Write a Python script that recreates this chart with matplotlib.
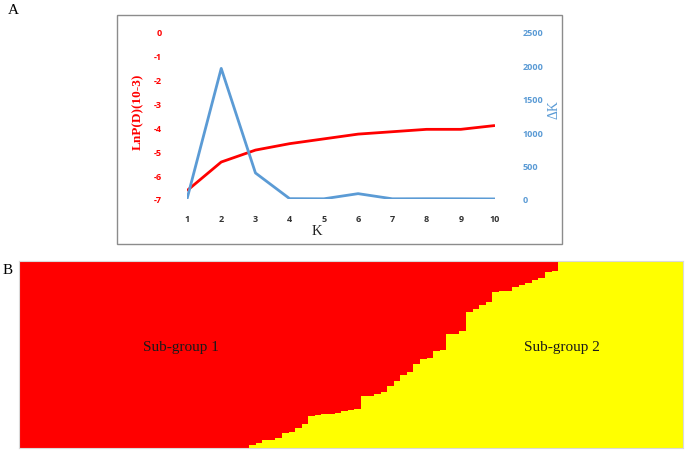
import numpy as np
import matplotlib
matplotlib.use('Agg')
import matplotlib.pyplot as plt
from matplotlib.patches import Rectangle

plt.rcParams['axes.unicode_minus'] = False

# Panel A: Evanno delta K results
k_values = [1, 2, 3, 4, 5, 6, 7, 8, 9, 10]
lnp_d = [-6.65, -5.45, -4.95, -4.68, -4.48, -4.28, -4.18, -4.08, -4.08, -3.92]
delta_k = [0, 1955, 390, 5, 3, 80, 3, 4, 3, 1]

# Panel B: STRUCTURE membership (sub-group 2 share) per individual, sorted
n_pure_group1 = 35
n_pure_group2 = 19
admixed_q2 = [0.018, 0.027, 0.041, 0.041, 0.055, 0.079, 0.087, 0.109, 0.128, 0.173,
              0.178, 0.180, 0.183, 0.186, 0.198, 0.202, 0.209, 0.276, 0.280, 0.289,
              0.298, 0.330, 0.360, 0.389, 0.408, 0.449, 0.474, 0.481, 0.517, 0.524,
              0.610, 0.610, 0.624, 0.726, 0.743, 0.765, 0.779, 0.836, 0.841, 0.842,
              0.863, 0.872, 0.881, 0.898, 0.907, 0.943, 0.944]
q2 = np.array([0.0] * n_pure_group1 + admixed_q2 + [1.0] * n_pure_group2)
q1 = 1 - q2

W, H = 685, 452
fig = plt.figure(figsize=(W / 100, H / 100), dpi=100)

def rect(x0, y0, x1, y1):
    return [x0 / W, 1 - y1 / H, (x1 - x0) / W, (y1 - y0) / H]

red = '#FF0000'
blue = '#5B9BD5'
serif = 'Liberation Serif'
sans = 'Open Sans'

# chart frame (Excel style border)
fig.patches.append(Rectangle((117 / W, 1 - 245 / H), (562 - 117) / W, (245 - 16) / H,
                             transform=fig.transFigure, fill=False,
                             edgecolor='#8c8c8c', linewidth=1.0))

ax1 = fig.add_axes(rect(187, 33, 495, 200))
ax1.plot(k_values, lnp_d, color=red, linewidth=2.0, solid_capstyle='butt')
ax1.set_xlim(1, 10)
ax1.set_ylim(-7, 0)
ax1.set_yticks(range(-7, 1))
ax1.set_xticks(k_values)
for s in ax1.spines.values():
    s.set_visible(False)
ax1.tick_params(axis='y', length=0, pad=18, labelcolor=red, labelsize=6.5)
ax1.tick_params(axis='x', length=0, pad=11, labelcolor='#333333', labelsize=6.5)
for lab in ax1.get_xticklabels() + ax1.get_yticklabels():
    lab.set_fontweight('bold')
    lab.set_fontfamily(sans)

ax2 = ax1.twinx()
ax2.plot(k_values, delta_k, color=blue, linewidth=2.0)
ax2.set_ylim(0, 2500)
ax2.set_yticks(range(0, 2501, 500))
for s in ax2.spines.values():
    s.set_visible(False)
ax2.tick_params(axis='y', length=0, pad=20, labelcolor=blue, labelsize=6.5)
for lab in ax2.get_yticklabels():
    lab.set_fontweight('bold')
    lab.set_fontfamily(sans)

fig.text(138 / W, 1 - 112 / H, 'LnP(D)(10-3)', rotation=90, color=red,
         fontfamily=serif, fontweight='bold', fontsize=9.5, ha='center', va='center')
fig.text(554 / W, 1 - 110 / H, 'ΔK', rotation=90, color=blue,
         fontfamily=serif, fontsize=10, ha='center', va='center')
fig.text(317 / W, 1 - 232 / H, 'K', color='#222222', fontfamily=serif,
         fontsize=10.5, ha='center', va='center')
fig.text(13 / W, 1 - 10 / H, 'A', fontfamily=serif, fontsize=11, ha='center', va='center')
fig.text(8 / W, 1 - 271 / H, 'B', fontfamily=serif, fontsize=11, ha='center', va='center')

# Panel B: stacked membership bars
ax3 = fig.add_axes(rect(19, 262, 683, 449))
idx = np.arange(len(q2))
ax3.bar(idx, q2, width=1.0, align='edge', color='#FFFF00', linewidth=0)
ax3.bar(idx, q1, bottom=q2, width=1.0, align='edge', color=red, linewidth=0)
ax3.set_xlim(0, len(q2))
ax3.set_ylim(0, 1)
ax3.set_xticks([])
ax3.set_yticks([])
for s in ax3.spines.values():
    s.set_edgecolor('#d9d9d9')
    s.set_linewidth(0.8)
ax3.text(181 / W, 1 - 347 / H, 'Sub-group 1', transform=fig.transFigure,
         fontfamily=serif, fontsize=11, ha='center', va='center', color='#1a1a1a')
ax3.text(562 / W, 1 - 347 / H, 'Sub-group 2', transform=fig.transFigure,
         fontfamily=serif, fontsize=11, ha='center', va='center', color='#1a1a1a')

fig.savefig('out.png', dpi=100)
